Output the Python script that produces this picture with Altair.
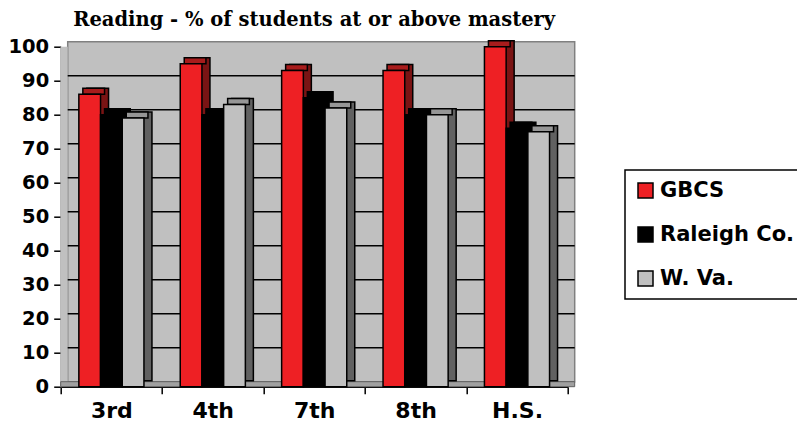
import altair as alt
import pandas as pd

# ---------------- data ----------------
grades = ["3rd", "4th", "7th", "8th", "H.S."]
series = ["GBCS", "Raleigh Co.", "W. Va."]
gbcs = [86, 95, 93, 93, 100]
raleigh = [80, 80, 85, 80, 76]
wva = [79, 83, 82, 80, 75]
y_ticks = [0, 10, 20, 30, 40, 50, 60, 70, 80, 90, 100]
title_text = "Reading - % of students at or above mastery"

front_colors = ["#EE2024", "#000000", "#C0C0C0"]
top_colors = ["#A81C1C", "#000000", "#969696"]
side_colors = ["#7A1414", "#000000", "#616161"]

rows = []
for s, vals in zip(series, [gbcs, raleigh, wva]):
    for g, v in zip(grades, vals):
        rows.append({"grade": g, "series": s, "value": v})
df = pd.DataFrame(rows)
grid_df = pd.DataFrame({"tick": y_ticks[1:-1]})
one = pd.DataFrame({"k": [0]})

# ---------------- layout ----------------
W, H = 507, 340
DX, DY = 8, 6     # bar depth
WX, WY = 7, 5     # wall depth
PO = 0.836        # outer padding of series band inside a grade

yscale = alt.Scale(domain=[0, 100], nice=False, zero=True)
xscale = alt.Scale(paddingInner=0, paddingOuter=0)

LBL = dict(labelFont="DejaVu Sans", labelFontWeight="bold", labelColor="black")
x_axis = alt.Axis(tickBand="extent", tickColor="black", tickSize=7, tickWidth=1.5,
                  domainColor="black", domainWidth=1.5, labelFontSize=22,
                  labelPadding=7, labelAngle=0, grid=False, **LBL)
y_axis = alt.Axis(values=y_ticks, grid=False, tickColor="black", tickSize=7,
                  tickWidth=1.5, domainColor="#808080", domainWidth=1.5,
                  labelFontSize=19.5, labelPadding=5, **LBL)

wall = alt.Chart(one).mark_rect(fill="#C0C0C0", stroke="#808080", strokeWidth=1.5).encode(
    x=alt.value(WX), x2=alt.value(W + WX), y=alt.value(-WY), y2=alt.value(H - WY))
left_wall = alt.Chart(one).mark_rect(fill="#C0C0C0").encode(
    x=alt.value(0), x2=alt.value(WX), y=alt.value(0), y2=alt.value(H))
floor = alt.Chart(one).mark_rect(fill="#A0A0A0", stroke="#606060", strokeWidth=1).encode(
    x=alt.value(0), x2=alt.value(W + WX), y=alt.value(H - WY), y2=alt.value(H))

grid = alt.Chart(grid_df).mark_rule(color="black", strokeWidth=1.5, yOffset=-WY).encode(
    y=alt.Y("tick:Q", scale=yscale, axis=y_axis, title=None),
    x=alt.value(WX), x2=alt.value(W + WX))

def bar_layer(colors, shift, y_off, y2_off, strip=False, legend=None):
    outer_total = 2 * PO
    align = (PO + shift / (W / 5 / (3 + outer_total))) / outer_total
    enc = dict(
        x=alt.X("grade:N", sort=grades, scale=xscale, title=None, axis=x_axis),
        xOffset=alt.XOffset("series:N", sort=series,
                            scale=alt.Scale(paddingInner=0, paddingOuter=PO, align=align)),
        y=alt.Y("value:Q", scale=yscale, title=None, axis=y_axis),
        color=alt.Color("series:N", sort=series, title=None,
                        scale=alt.Scale(domain=series, range=colors), legend=legend),
    )
    if strip:
        enc["y2"] = alt.Y2("value:Q")
    return alt.Chart(df).mark_bar(stroke="black", strokeWidth=1.5,
                                  yOffset=y_off, y2Offset=y2_off).encode(**enc)

legend = alt.Legend(
    orient="none", legendX=564.3, legendY=123.3, direction="vertical",
    symbolType="square", symbolSize=225, symbolStrokeColor="black", symbolStrokeWidth=1.5,
    labelFont="DejaVu Sans", labelFontWeight="bold", labelFontSize=21, labelColor="black",
    labelOffset=4, rowPadding=22, padding=10, strokeColor="black",
    fillColor="white", labelLimit=300)

side = bar_layer(side_colors, DX, -DY, -DY)
top = bar_layer(top_colors, DX / 2, -DY, 0, strip=True)
front = bar_layer(front_colors, 0, 0, 0, legend=legend)

chart = alt.layer(wall, left_wall, floor, grid, side, top, front).resolve_scale(
    xOffset="independent", color="independent"
).properties(
    width=W, height=H,
    title=alt.Title(text=title_text, font="DejaVu Serif", fontSize=19.5, fontWeight="bold",
                    color="black", anchor="middle", frame="group", offset=6),
    autosize=alt.AutoSizeParams(type="none"),
    padding={"left": 52.7, "top": 38.7, "right": 229.3, "bottom": 35.3},
    background="white",
).configure_view(stroke=None).configure_legend(strokeWidth=1.5)

chart.save("out.html", embed_options={"renderer": "svg", "actions": False})
